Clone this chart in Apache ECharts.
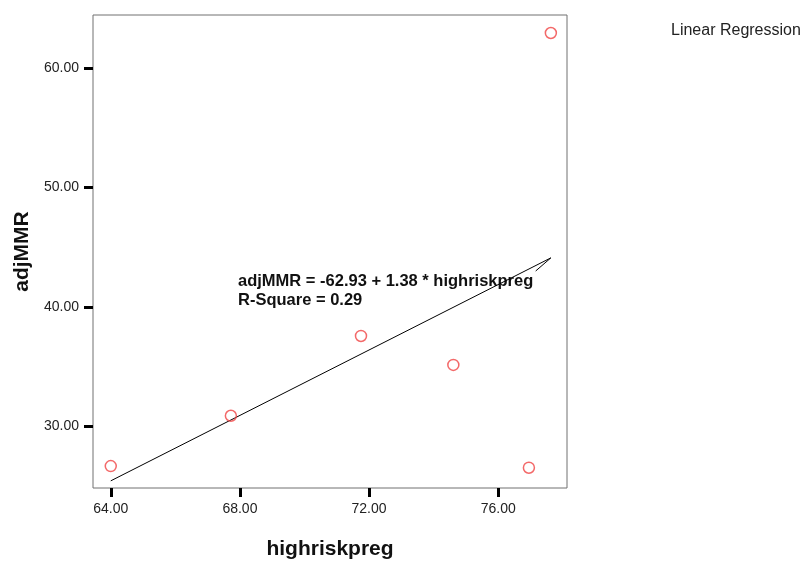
<!DOCTYPE html>
<html>
<head>
<meta charset="utf-8">
<script src="https://cdn.jsdelivr.net/npm/echarts@6/dist/echarts.min.js"></script>
<style>html,body{margin:0;padding:0;background:#fff}#c{width:802px;height:561px}</style>
</head>
<body>
<div id="c"></div>
<script>
// Observed points (highriskpreg, adjMMR)
var highriskpreg = [64.0, 67.72, 71.75, 74.61, 76.95, 77.63];
var adjMMR = [26.64, 30.86, 37.55, 35.12, 26.50, 62.96];
// Fit line as drawn (incl. the small return stroke at its end)
var fitX = [64.0, 77.63, 77.16];
var fitY = [25.4, 44.1, 43.0];
var xTicks = [64, 68, 72, 76];
var yTicks = [30, 40, 50, 60];
var equationText = 'adjMMR = -62.93 + 1.38 * highriskpreg';
var rSquareText = 'R-Square = 0.29';
var legendText = 'Linear Regression';

var pts = highriskpreg.map(function (x, i) { return [x, adjMMR[i]]; });
var fit = fitX.map(function (x, i) { return [x, fitY[i]]; });
var FONT = 'Liberation Sans, Arial, sans-serif';

var chart = echarts.init(document.getElementById('c'));
chart.setOption({
  animation: false,
  backgroundColor: '#fff',
  grid: { left: 93, top: 15, right: 235, bottom: 73, show: true, borderColor: '#707070', borderWidth: 1,
    containLabel: false, outerBoundsMode: 'none' },
  xAxis: {
    type: 'value', min: 63.45, max: 78.13,
    name: 'highriskpreg', nameLocation: 'middle', nameGap: 51,
    nameTextStyle: { fontSize: 21, fontWeight: 'bold', color: '#111', fontFamily: FONT },
    axisLine: { show: false },
    splitLine: { show: false },
    axisTick: { show: true, length: 9, lineStyle: { color: '#000', width: 3 }, customValues: xTicks },
    axisLabel: { fontSize: 14, color: '#222', margin: 14, fontFamily: FONT, customValues: xTicks,
      formatter: function (v) { return v.toFixed(2); } }
  },
  yAxis: {
    type: 'value', min: 24.8, max: 64.47,
    name: 'adjMMR', nameLocation: 'middle', nameGap: 60,
    nameTextStyle: { fontSize: 21, fontWeight: 'bold', color: '#111', fontFamily: FONT },
    axisLine: { show: false },
    splitLine: { show: false },
    axisTick: { show: true, length: 9, lineStyle: { color: '#000', width: 3 }, customValues: yTicks },
    axisLabel: { fontSize: 14, color: '#222', margin: 14, fontFamily: FONT, customValues: yTicks,
      formatter: function (v) { return v.toFixed(2); } }
  },
  graphic: [
    { type: 'text', left: 238, top: 273, style: { text: equationText, fontSize: 16.5, fontWeight: 'bold', fill: '#111', fontFamily: FONT } },
    { type: 'text', left: 238, top: 292, style: { text: rSquareText, fontSize: 16.5, fontWeight: 'bold', fill: '#111', fontFamily: FONT } },
    { type: 'text', left: 671, top: 23, style: { text: legendText, fontSize: 16, fill: '#222', fontFamily: FONT } }
  ],
  series: [
    { type: 'line', data: fit, symbol: 'none', lineStyle: { color: '#000', width: 1 }, z: 2, silent: true },
    { type: 'scatter', data: pts, symbol: 'circle', symbolSize: 11,
      itemStyle: { color: 'rgba(255,255,255,0)', borderColor: '#f04444', borderWidth: 1.5 }, z: 3 }
  ]
});
</script>
</body>
</html>
